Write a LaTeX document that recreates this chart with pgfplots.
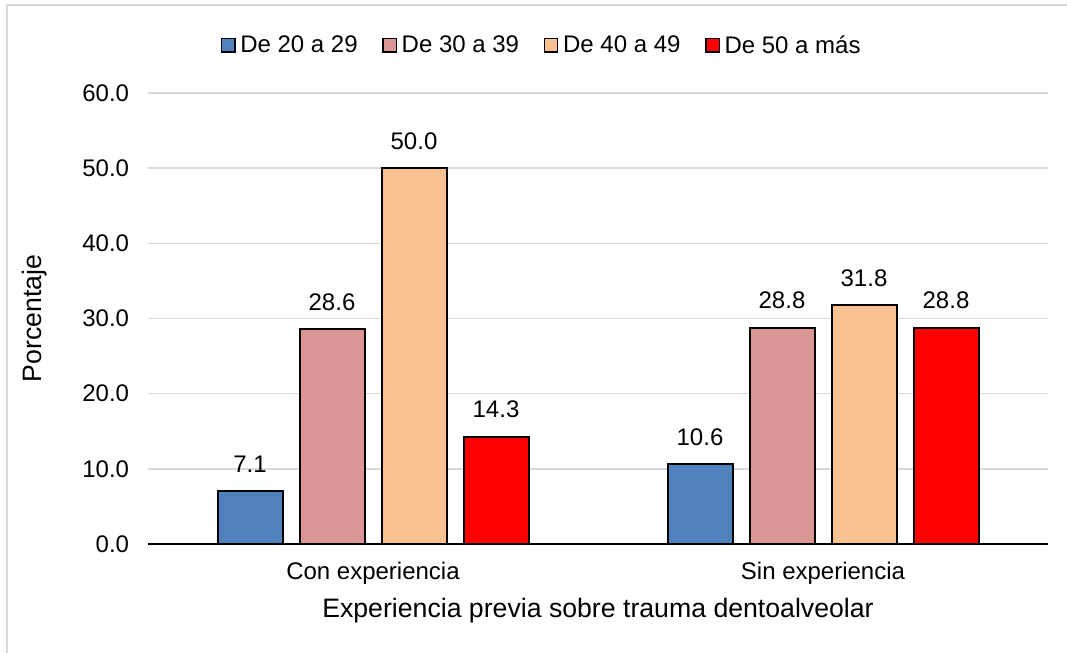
\documentclass[border=0pt]{standalone}
\usepackage{fontspec}
\setmainfont{Liberation Sans}
\usepackage{pgfplots}
\pgfplotsset{compat=1.18}
\definecolor{cBlue}{HTML}{4F81BD}
\definecolor{cPink}{HTML}{D99694}
\definecolor{cOrange}{HTML}{F9C191}
\definecolor{cRed}{HTML}{FF0000}
\definecolor{cGrid}{HTML}{D9D9D9}
\begin{document}
\begin{tikzpicture}
\useasboundingbox (0,0) rectangle (800.25pt,489.75pt);
\draw[cGrid, line width=1.5pt] (5.25pt,0) -- (5.25pt,486pt) -- (800.25pt,486pt);
\begin{axis}[
  at={(111pt,81.75pt)}, anchor=south west,
  scale only axis, width=675pt, height=338.25pt,
  xmin=-0.5, xmax=1.5, ymin=0, ymax=60,
  ybar, bar width=48.75pt,
  xtick={0,1}, xticklabels={Con experiencia, Sin experiencia},
  ytick={0,10,...,60},
  major tick length=0pt,
  axis line style={draw=none},
  ymajorgrids, grid style={cGrid, line width=1.1pt},
  extra y ticks={0}, extra y tick labels={},
  extra y tick style={grid style={black, line width=1.1pt}},
  font=\fontsize{18}{21}\selectfont,
  /pgf/number format/assume math mode=true,
  yticklabel={\pgfmathprintnumber[fixed,fixed zerofill,precision=1]{\tick}},
  yticklabel style={anchor=east, inner sep=0pt, xshift=-14pt},
  xticklabel style={anchor=center, yshift=-22pt},
  xlabel={Experiencia previa sobre trauma dentoalveolar},
  ylabel={Porcentaje},
  label style={font=\fontsize{20}{24}\selectfont},
  xlabel style={at={(axis description cs:0.5,-0.1486)}, anchor=center},
  ylabel style={at={(axis description cs:-0.126,0.5)}, anchor=center, rotate=0},
  nodes near coords={\pgfmathprintnumber[fixed,fixed zerofill,precision=1]{\pgfplotspointmeta}},
  every node near coord/.append style={anchor=south, inner sep=0pt, yshift=13pt, font=\fontsize{18}{21}\selectfont},
  legend columns=4,
  legend style={at={(axis description cs:0.439,1.106)}, anchor=center, draw=none, fill=none,
    font=\fontsize{18}{21}\selectfont,
    /tikz/every even column/.append style={column sep=15pt},
    nodes={inner sep=3.5pt}},
  legend image code/.code={\draw[#1, line width=1pt] (0pt,-5pt) rectangle (10pt,5pt);},
  every axis plot/.append style={draw=black, line width=1.5pt},
]
\addplot[fill=cBlue, draw=black, line width=1.5pt, bar shift=-92.25pt] coordinates {(0,7.1) (1,10.6)};
\addplot[fill=cPink, draw=black, line width=1.5pt, bar shift=-30.75pt] coordinates {(0,28.6) (1,28.8)};
\addplot[fill=cOrange, draw=black, line width=1.5pt, bar shift=30.75pt] coordinates {(0,50.0) (1,31.8)};
\addplot[fill=cRed, draw=black, line width=1.5pt, bar shift=92.25pt] coordinates {(0,14.3) (1,28.8)};
\legend{De 20 a 29, De 30 a 39, De 40 a 49, De 50 a más}
\end{axis}
\end{tikzpicture}
\end{document}
